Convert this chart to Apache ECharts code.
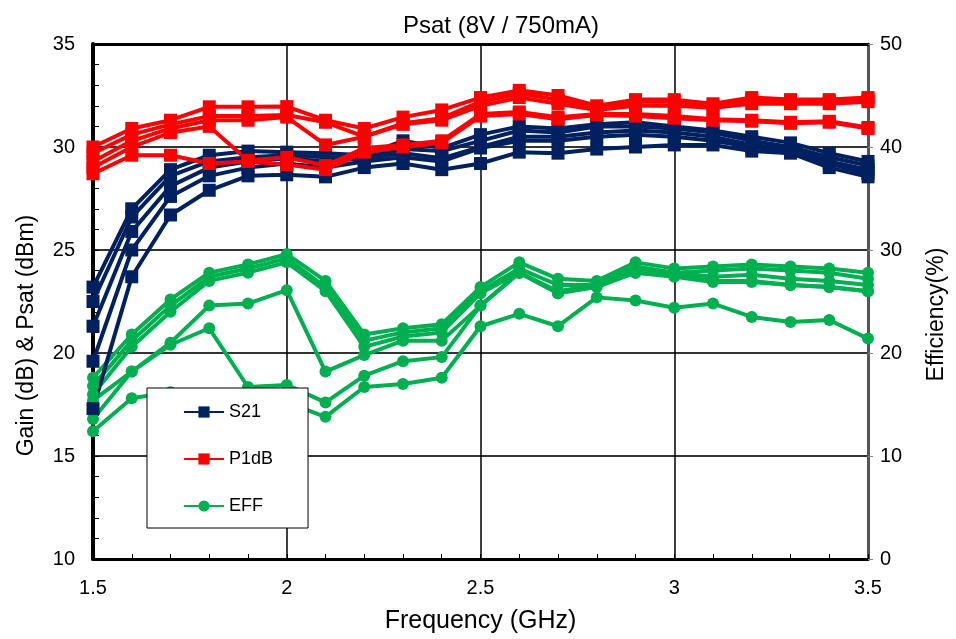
<!DOCTYPE html>
<html>
<head>
<meta charset="utf-8">
<script src="https://cdn.jsdelivr.net/npm/echarts@6/dist/echarts.min.js"></script>
<style>html,body{margin:0;padding:0;background:#fff}#c{width:956px;height:639px}</style>
</head>
<body>
<div id="c"></div>
<script>
var freq = [1.5,1.6,1.7,1.8,1.9,2.0,2.1,2.2,2.3,2.4,2.5,2.6,2.7,2.8,2.9,3.0,3.1,3.2,3.3,3.4,3.5];

var s21_1 = [23.2,27.0,28.9,29.6,29.8,29.75,29.7,29.6,30.3,29.95,30.6,31.0,30.9,31.1,31.2,31.0,30.8,30.5,30.2,29.7,29.3];
var s21_2 = [22.5,26.6,28.6,29.3,29.5,29.6,29.5,29.5,29.9,29.8,30.3,30.8,30.7,31.0,31.0,30.9,30.7,30.3,30.0,29.5,29.1];
var s21_3 = [21.3,25.9,28.1,29.0,29.3,29.45,29.3,29.45,29.7,29.45,30.0,30.5,30.5,30.7,30.8,30.7,30.5,30.1,29.9,29.3,28.9];
var s21_4 = [19.6,25.0,27.6,28.6,29.0,29.2,29.0,29.3,29.5,29.3,29.95,30.3,30.3,30.5,30.6,30.5,30.3,30.0,29.8,29.2,28.7];
var s21_5 = [17.3,23.7,26.7,27.9,28.6,28.65,28.55,29.0,29.2,28.9,29.2,29.75,29.7,29.9,30.0,30.1,30.1,29.8,29.7,29.0,28.55];

var p1db_1 = [30.0,30.9,31.3,31.95,31.95,31.96,31.3,30.9,31.45,31.8,32.4,32.75,32.5,32.0,32.3,32.3,32.1,32.4,32.3,32.3,32.4];
var p1db_2 = [29.7,30.6,31.1,31.5,31.5,31.55,31.2,30.5,31.15,31.4,32.2,32.6,32.3,31.9,32.2,32.2,32.0,32.3,32.2,32.2,32.3];
var p1db_3 = [29.3,30.3,30.9,31.3,31.3,31.45,30.1,30.5,31.1,31.3,32.0,32.4,32.1,31.8,32.0,32.0,31.9,32.1,32.1,32.1,32.2];
var p1db_4 = [29.0,30.0,30.7,31.0,29.35,29.5,29.1,29.95,30.1,30.3,31.6,31.7,31.45,31.6,31.6,31.5,31.35,31.3,31.2,31.25,30.95];
var p1db_5 = [28.7,29.6,29.6,29.2,29.3,29.15,28.9,29.75,30.0,30.2,31.5,31.6,31.35,31.55,31.5,31.4,31.3,31.25,31.15,31.2,30.9];

var eff_1 = [17.6,21.8,25.2,27.8,28.6,29.6,27.0,21.8,22.4,22.8,26.4,28.8,27.2,27.0,28.8,28.2,28.4,28.6,28.4,28.2,27.8];
var eff_2 = [16.8,21.2,24.6,27.4,28.2,29.2,26.4,21.2,22.0,22.4,26.0,28.2,26.6,26.6,28.2,27.8,28.0,28.2,28.0,27.8,27.2];
var eff_3 = [16.0,20.6,24.0,27.0,27.8,28.8,26.0,20.6,21.6,22.0,25.8,27.8,25.8,26.4,27.8,27.6,27.0,27.0,26.6,26.4,26.0];
var eff_4 = [15.4,18.2,21.0,24.6,24.8,26.1,18.2,19.8,21.2,21.2,24.6,27.8,25.8,26.8,28.4,27.8,27.4,27.6,27.2,27.0,26.6];
var eff_5 = [13.6,18.2,20.8,22.4,16.7,16.9,15.2,17.8,19.2,19.6,24.6,27.8,26.0,26.6,27.8,27.4,26.9,26.9,26.6,26.4,26.0];
var eff_6 = [12.4,15.6,16.2,16.0,15.6,15.2,13.8,16.7,17.0,17.6,22.6,23.8,22.6,25.4,25.1,24.4,24.8,23.5,23.0,23.2,21.4];

var seriesNames = ['S21','P1dB','EFF'];
var NAVY = '#002060', RED = '#FF0000', GREEN = '#00B050';
var FONT = 'Liberation Sans, Arial, sans-serif';

function pairs(arr){ return freq.map(function(f,i){ return [f, arr[i]]; }); }
function mk(name, arr, color, symbol, size, yIdx){
  return {
    name: name, type: 'line', yAxisIndex: yIdx, data: pairs(arr),
    symbol: symbol, symbolSize: size, showSymbol: true,
    lineStyle: {color: color, width: 4},
    itemStyle: {color: color, borderWidth: 0},
    animation: false, silent: true
  };
}

var series = [];
[eff_6,eff_5,eff_4,eff_3,eff_2,eff_1].forEach(function(a){ series.push(mk('EFF', a, GREEN, 'circle', 12, 1)); });
[s21_5,s21_4,s21_3,s21_2,s21_1].forEach(function(a){ series.push(mk('S21', a, NAVY, 'rect', 13, 0)); });
[p1db_5,p1db_4,p1db_3,p1db_2,p1db_1].forEach(function(a){ series.push(mk('P1dB', a, RED, 'rect', 13, 0)); });

var chart = echarts.init(document.getElementById('c'), null, {renderer: 'canvas'});
chart.setOption({
  backgroundColor: '#fff',
  animation: false,
  textStyle: {fontFamily: FONT, color: '#000'},
  title: {
    text: 'Psat (8V / 750mA)', left: 496, top: 9, textAlign: 'center',
    textStyle: {fontFamily: FONT, fontSize: 24, fontWeight: 'normal', color: '#000'}
  },
  grid: {left: 93, right: 84, top: 44, bottom: 80, containLabel: false},
  legend: {
    data: seriesNames, orient: 'vertical', left: 147, top: 388,
    backgroundColor: '#fff', borderColor: '#000', borderWidth: 1,
    padding: [15, 35, 13, 36], itemGap: 29, itemWidth: 40, itemHeight: 14,
    textStyle: {fontFamily: FONT, fontSize: 18, color: '#000'},
    selectedMode: false, z: 10
  },
  xAxis: [{
    type: 'value', min: 1.5, max: 3.5, interval: 0.5, position: 'bottom',
    name: 'Frequency (GHz)', nameLocation: 'middle', nameGap: 50,
    nameTextStyle: {fontFamily: FONT, fontSize: 25, color: '#000'},
    axisLine: {show: true, onZero: false, lineStyle: {color: '#000', width: 3}},
    axisTick: {show: true, inside: true, length: 5, lineStyle: {color: '#000', width: 1}},
    minorTick: {show: true, splitNumber: 5, length: 5, lineStyle: {color: '#000', width: 1}},
    axisLabel: {fontFamily: FONT, fontSize: 20, color: '#000', margin: 19,
      formatter: function(v){ return String(v); }},
    splitLine: {show: true, lineStyle: {color: '#000', width: 1.5}}
  }, {
    type: 'value', min: 1.5, max: 3.5, interval: 0.5, position: 'top',
    axisLine: {show: true, onZero: false, lineStyle: {color: '#000', width: 3}},
    axisTick: {show: false}, axisLabel: {show: false}, splitLine: {show: false}
  }],
  yAxis: [{
    type: 'value', min: 10, max: 35, interval: 5, position: 'left',
    name: 'Gain (dB) & Psat (dBm)', nameLocation: 'middle', nameGap: 55, nameRotate: 90,
    nameTextStyle: {fontFamily: FONT, fontSize: 23, color: '#000', padding: [0, 68, 0, 0]},
    axisLine: {show: true, lineStyle: {color: '#000', width: 4}},
    axisTick: {show: true, inside: true, length: 6, lineStyle: {color: '#000', width: 1}},
    minorTick: {show: true, splitNumber: 5, length: 6, lineStyle: {color: '#000', width: 1}},
    axisLabel: {fontFamily: FONT, fontSize: 20, color: '#000', margin: 18},
    splitLine: {show: true, lineStyle: {color: '#333', width: 2}}
  }, {
    type: 'value', min: 0, max: 50, interval: 10, position: 'right',
    name: 'Efficiency(%)', nameLocation: 'middle', nameGap: 57, nameRotate: 90,
    nameTextStyle: {fontFamily: FONT, fontSize: 23, color: '#000', padding: [0, 26, 0, 0]},
    axisLine: {show: true, lineStyle: {color: '#555', width: 3}},
    axisTick: {show: true, inside: false, length: 5, lineStyle: {color: '#888', width: 1}},
    axisLabel: {fontFamily: FONT, fontSize: 20, color: '#000', margin: 12},
    splitLine: {show: false}
  }],
  series: series
});
</script>
</body>
</html>
